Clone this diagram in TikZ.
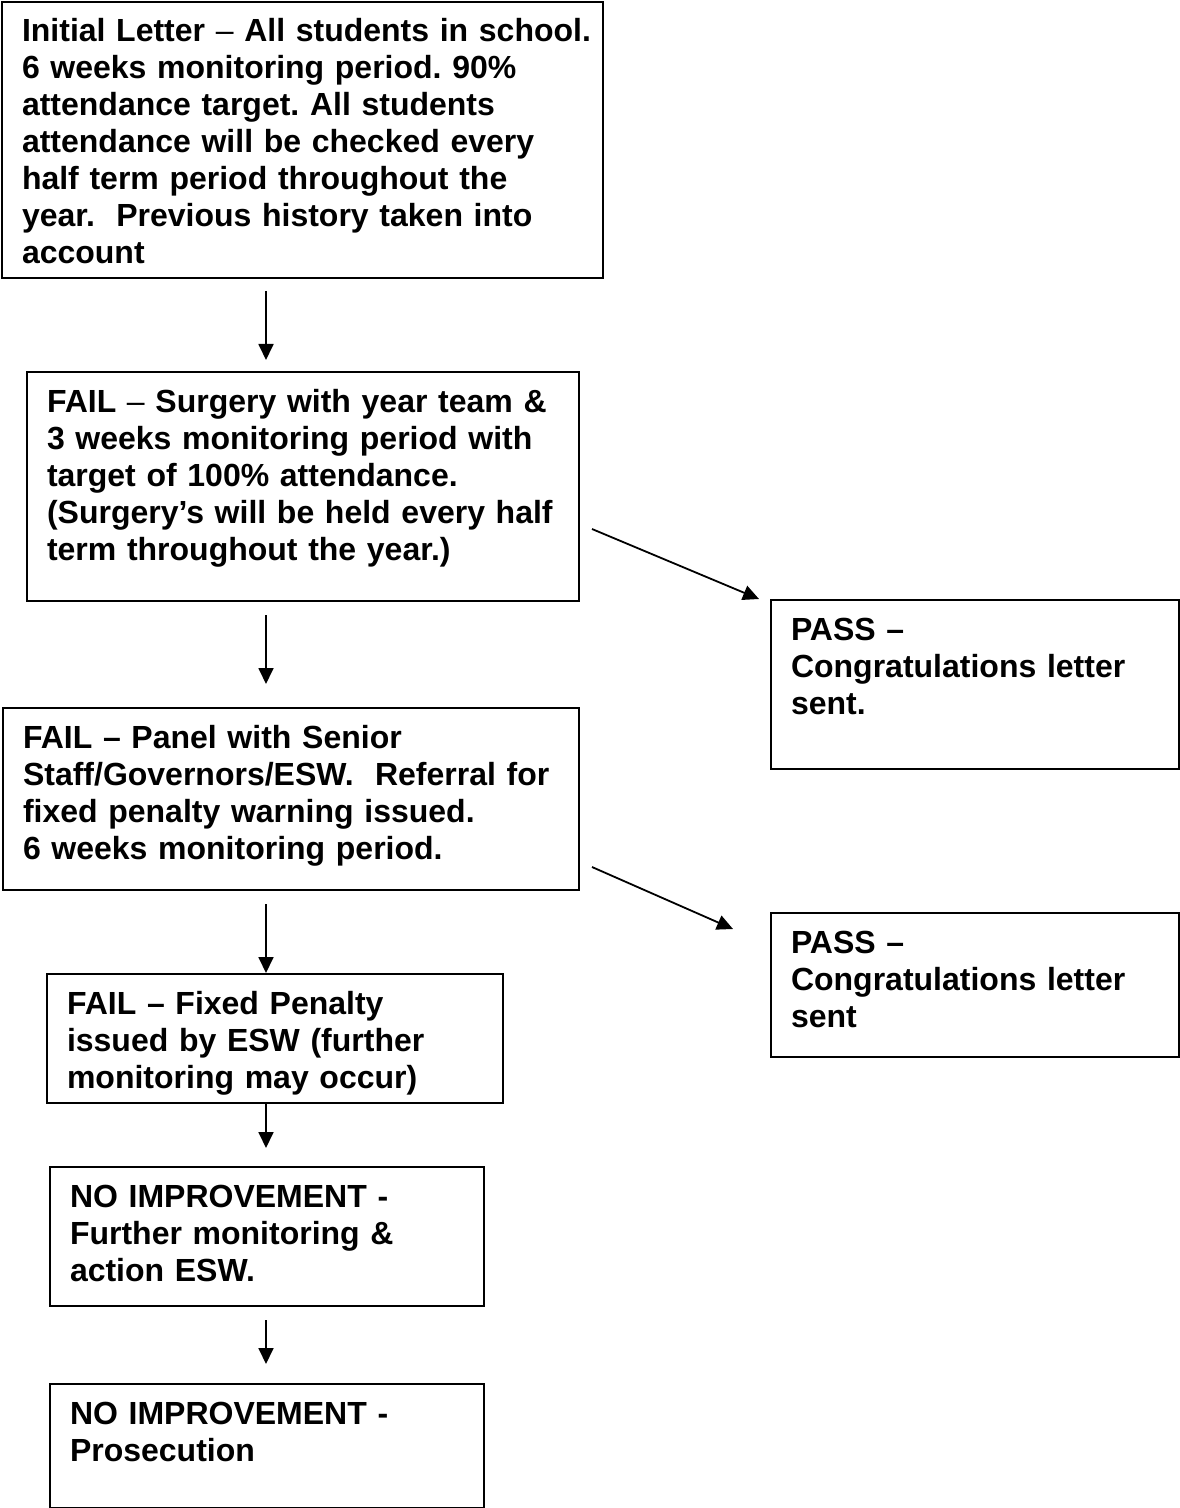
\documentclass[tikz,border=0pt]{standalone}
\usepackage{fontspec}
\setmainfont{Liberation Sans}
\usetikzlibrary{arrows.meta}
\frenchspacing

\begin{document}
\begin{tikzpicture}[x=0.5pt, y=-0.5pt,
  flowbox/.style={rectangle, draw=black, line width=1pt, anchor=north west,
                  inner xsep=10pt, inner ysep=0pt, align=left, text height=20pt,
                  font=\bfseries\fontsize{16}{18.5}\selectfont},
  arr/.style   ={-{Triangle[length=8pt,width=7.5pt]}, line width=0.9pt, black}
]
\useasboundingbox (0,0) rectangle (1179,1508);
\coordinate (axis) at (266,0);

% main column
\node[flowbox, text width=280.5pt, text depth=118pt] (init) at (1,1)
  {\mbox{Initial Letter {\mdseries –} All students in school.}\\
   6 weeks monitoring period. 90\%\\
   attendance target. All students\\
   attendance will be checked every\\
   half term period throughout the\\
   year.~ Previous history taken into\\
   account};
\node[flowbox, text width=256pt, text depth=94.5pt] (surgery) at (26,371)
  {FAIL {\mdseries –} Surgery with year team \&\\
   3 weeks monitoring period with\\
   target of 100\% attendance.\\
   (Surgery’s will be held every half\\
   term throughout the year.)};
\node[flowbox, text width=268pt, text depth=71pt] (panel) at (2,707)
  {FAIL – Panel with Senior\\
   Staff/Governors/ESW.~ Referral for\\
   fixed penalty warning issued.\\
   6 weeks monitoring period.};
\node[flowbox, text width=208pt, text depth=44.5pt] (penalty) at (46,973)
  {FAIL – Fixed Penalty\\
   issued by ESW (further\\
   monitoring may occur)};
\node[flowbox, text width=197pt, text depth=49.5pt] (monitor) at (49,1166)
  {NO IMPROVEMENT -\\
   Further monitoring \&\\
   action ESW.};
\node[flowbox, text width=197pt, text depth=42pt] (prosec) at (49,1383)
  {NO IMPROVEMENT -\\
   Prosecution};

% pass outcomes
\node[flowbox, text width=184pt, text depth=64.5pt] (pass1) at (770,599)
  {PASS –\\
   Congratulations letter\\
   sent.};
\node[flowbox, text width=184pt, text depth=52pt] (pass2) at (770,912)
  {PASS –\\
   Congratulations letter\\
   sent};

\draw[arr, shorten <=6pt,   shorten >=5.5pt]  (init.south -| axis)    -- (surgery.north -| axis);
\draw[arr, shorten <=6.5pt, shorten >=11.5pt] (surgery.south -| axis) -- (panel.north -| axis);
\draw[arr, shorten <=6.5pt]                   (panel.south -| axis)   -- (penalty.north -| axis);
\draw[arr, shorten >=9pt]                     (penalty.south -| axis) -- (monitor.north -| axis);
\draw[arr, shorten <=6.5pt, shorten >=9.5pt]  (monitor.south -| axis) -- (prosec.north -| axis);

% diagonal arrows to PASS
\draw[arr] ([shift={(6pt,-21.25pt)}]surgery.east) -- ([xshift=-5.5pt]pass1.north west);
\draw[arr] ([shift={(6pt,-34pt)}]panel.east) -- ([shift={(-18.5pt,-8.5pt)}]pass2.north west);
\end{tikzpicture}
\end{document}
